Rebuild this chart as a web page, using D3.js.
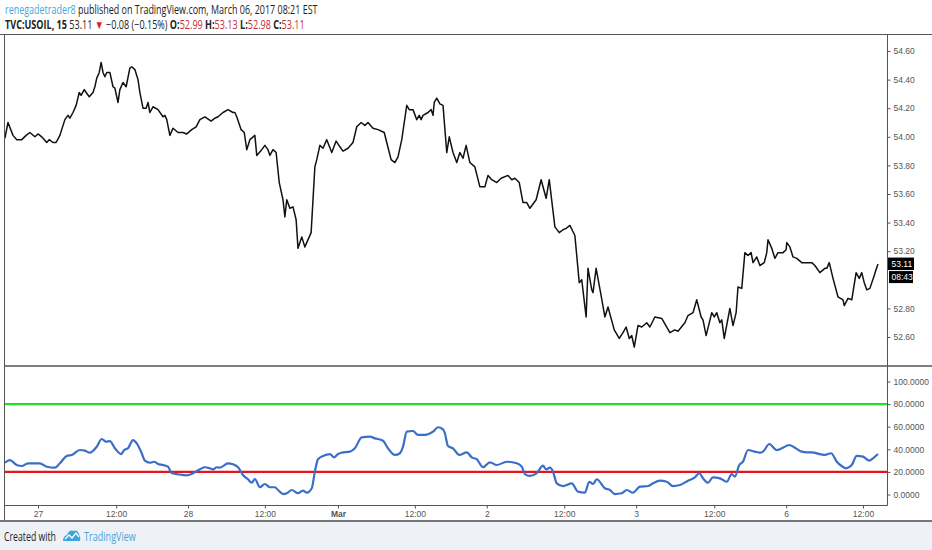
<!DOCTYPE html>
<html>
<head>
    <meta charset="utf-8">
    <style>
        body {
            margin: 0;
            background: #fff;
        }

        svg {
            display: block;
        }

        .tick-label {
            font-family: "Liberation Sans", Arial, sans-serif;
            font-size: 8.5px;
            fill: #555;
        }

        .head {
            font-family: "Open Sans", "Noto Sans", sans-serif;
            font-size: 12px;
            fill: #222;
        }
    </style>
</head>

<body>
    <svg width="932" height="550"></svg>

    <script src="https://d3js.org/d3.v7.min.js"></script>
    <script>
        const priceHours = [-5.3, -4.8, -4.0, -3.4, -2.6, -1.9, -1.3, -0.5, 0, 0.6, 1.4, 1.8, 2.4, 2.9, 3.5, 4.3, 4.8, 5.1, 5.6, 6.1,
            6.6, 6.9, 7.4, 7.7, 8.2, 8.8, 9.1, 9.4, 9.8, 10.1, 10.4, 10.7, 11.0, 11.5, 12.0, 12.3, 12.8, 13.1, 13.6, 14.1,
            14.7, 15.0, 15.5, 16.0, 16.3, 16.8, 17.3, 17.6, 17.9, 18.4, 19.2, 20.0, 20.3, 20.6, 21.1, 21.6, 22.4, 23.2, 23.8, 24.6,
            25.3, 25.9, 26.7, 27.7, 28.3, 28.8, 29.6, 30.4, 31.2, 31.5, 31.8, 32.5, 33.0, 33.4, 33.9, 34.7, 35.0, 35.8, 36.3, 36.8,
            37.1, 37.6, 38.1, 38.6, 39.2, 39.5, 39.8, 40.3, 40.8, 41.3, 41.6, 42.2, 42.7, 43.7, 44.3, 44.6, 45.1, 45.6, 46.2, 47.0,
            47.7, 48.3, 48.8, 49.6, 50.4, 51.0, 51.7, 52.3, 52.8, 53.6, 54.4, 55.4, 55.8, 56.5, 57.1, 57.6, 58.2, 58.6, 59.0, 59.4,
            60.0, 60.6, 61.0, 61.3, 61.6, 62.4, 62.9, 63.2, 63.4, 63.8, 64.3, 64.8, 65.4, 65.8, 66.4, 67.0, 67.5, 68.0, 68.5, 69.1,
            69.9, 70.7, 71.5, 72.0, 72.6, 73.4, 74.1, 75.2, 75.8, 76.3, 77.0, 77.6, 78.2, 78.7, 79.7, 80.5, 81.3, 81.8, 82.7, 83.4,
            84.0, 84.5, 85.1, 85.9, 86.6, 87.0, 87.7, 88.0, 88.6, 88.8, 89.3, 90.1, 90.7, 91.2, 92.2, 93.0, 93.6, 94.1, 94.6, 95.0,
            95.4, 96.0, 96.6, 97.4, 97.9, 98.7, 99.8, 101.1, 101.9, 102.4, 103.5, 104.0, 104.8, 105.4, 106.1, 106.4, 106.9, 107.8, 108.2, 108.6,
            109.1, 109.4, 109.8, 110.7, 111.2, 111.7, 112.0, 112.6, 113.1, 113.6, 114.1, 114.4, 115.0, 115.5, 116.2, 116.6, 116.8, 117.4, 117.9, 118.4,
            119.2, 119.7, 119.8, 120.3, 120.8, 121.4, 122.2, 122.7, 123.8, 124.3, 125.1, 125.9, 126.2, 126.6, 127.2, 128.0, 128.8, 129.0, 129.6, 130.2,
            130.9, 131.4, 131.8, 132.2, 132.6, 133.1, 133.8, 134.0, 134.4];

        const prices = [53.99, 54.10, 54.01, 53.98, 53.98, 54.01, 54.03, 54.00, 54.02, 54.00, 53.96, 53.98, 53.96, 53.96, 54.01, 54.12, 54.15, 54.13, 54.17, 54.22,
            54.31, 54.29, 54.33, 54.31, 54.28, 54.31, 54.35, 54.41, 54.45, 54.52, 54.45, 54.42, 54.45, 54.45, 54.35, 54.34, 54.24, 54.33, 54.38, 54.35,
            54.48, 54.49, 54.47, 54.40, 54.31, 54.20, 54.20, 54.24, 54.17, 54.21, 54.19, 54.14, 54.15, 54.12, 54.01, 54.06, 54.03, 54.03, 54.02, 54.05,
            54.07, 54.12, 54.14, 54.11, 54.13, 54.14, 54.17, 54.19, 54.17, 54.17, 54.14, 54.05, 54.03, 53.91, 53.98, 54.01, 53.87, 53.91, 53.94, 53.91,
            53.87, 53.91, 53.89, 53.68, 53.56, 53.44, 53.56, 53.50, 53.51, 53.42, 53.22, 53.30, 53.23, 53.33, 53.79, 53.84, 53.94, 53.92, 53.98, 53.89,
            53.97, 53.93, 53.90, 53.92, 53.96, 54.07, 54.10, 54.08, 54.10, 54.06, 54.05, 54.03, 53.96, 53.84, 53.82, 53.86, 53.98, 54.10, 54.22, 54.19,
            54.19, 54.12, 54.15, 54.12, 54.15, 54.17, 54.19, 54.15, 54.24, 54.27, 54.23, 54.22, 53.89, 54.00, 53.89, 53.82, 53.89, 53.85, 53.94, 53.82,
            53.79, 53.65, 53.65, 53.73, 53.70, 53.68, 53.71, 53.73, 53.70, 53.71, 53.68, 53.54, 53.54, 53.50, 53.56, 53.70, 53.57, 53.70, 53.37, 53.33,
            53.35, 53.36, 53.38, 53.31, 52.98, 53.00, 52.74, 53.08, 52.93, 52.91, 53.08, 52.89, 52.74, 52.81, 52.65, 52.59, 52.63, 52.67, 52.59, 52.61,
            52.53, 52.68, 52.67, 52.70, 52.67, 52.74, 52.73, 52.63, 52.65, 52.64, 52.70, 52.75, 52.77, 52.86, 52.74, 52.72, 52.61, 52.77, 52.74, 52.77,
            52.70, 52.72, 52.59, 52.80, 52.68, 52.77, 52.95, 52.94, 53.19, 53.17, 53.19, 53.12, 53.16, 53.10, 53.12, 53.19, 53.28, 53.22, 53.15, 53.19,
            53.19, 53.21, 53.26, 53.23, 53.16, 53.15, 53.12, 53.12, 53.12, 53.10, 53.05, 53.08, 53.08, 53.12, 53.01, 52.88, 52.86, 52.82, 52.87, 52.86,
            53.05, 53.01, 53.05, 52.98, 52.93, 52.94, 53.03, 53.06, 53.11];

        // oscillator in the lower pane
        const oscHours = [-5.3, -4.5, -3.4, -2.6, -1.6, 0.3, 1.4, 2.7, 3.5, 4.6, 5.4, 6.7, 7.5, 8.3, 9.4, 10.2, 10.9, 11.5, 12.3, 13.3,
            13.8, 14.4, 15.2, 15.8, 16.6, 17.1, 17.9, 18.6, 19.2, 20.0, 20.8, 21.4, 22.2, 23.8, 24.8, 25.9, 26.7, 27.5, 28.0, 28.6,
            29.1, 30.4, 31.2, 32.0, 32.8, 33.6, 34.2, 34.7, 35.5, 36.3, 37.1, 37.9, 38.4, 39.2, 39.8, 40.6, 41.6, 42.4, 43.0, 43.8,
            44.3, 44.8, 45.6, 46.7, 47.4, 48.0, 48.6, 49.9, 50.7, 51.8, 53.1, 53.9, 55.2, 56.0, 57.1, 57.9, 58.4, 59.0, 60.0, 60.8,
            61.9, 63.2, 64.0, 64.8, 65.1, 65.6, 66.4, 67.4, 68.6, 69.4, 70.2, 71.2, 72.3, 73.4, 75.0, 76.6, 77.4, 77.9, 78.7, 79.8,
            80.8, 81.3, 81.9, 82.4, 83.0, 84.0, 85.4, 86.4, 87.5, 88.2, 88.8, 89.4, 90.7, 91.5, 92.3, 93.4, 94.2, 95.2, 96.3, 97.6,
            98.4, 99.5, 100.6, 101.6, 102.7, 104.0, 105.1, 105.8, 106.4, 107.2, 108.0, 109.1, 110.2, 111.0, 111.5, 112.2, 112.8, 113.6, 114.7, 115.5,
            116.0, 117.0, 118.2, 119.0, 120.2, 121.1, 122.2, 123.0, 123.8, 125.1, 125.9, 126.9, 127.8, 128.6, 129.3, 130.2, 131.0, 132.0, 133.0, 133.6,
            134.4];

        const oscValues = [28.1, 30.5, 26.1, 25.2, 27.6, 27.6, 24.6, 23.7, 27.6, 34.1, 35.0, 39.4, 38.8, 37.0, 42.3, 49.1, 46.7, 47.3, 40.9, 35.8,
            39.4, 40.9, 48.2, 45.3, 36.5, 29.9, 28.1, 29.0, 27.0, 26.1, 24.6, 18.8, 18.1, 17.0, 18.8, 22.3, 24.1, 23.2, 22.3, 24.1,
            23.7, 27.6, 26.7, 24.1, 17.3, 13.5, 10.4, 13.7, 6.4, 9.3, 6.4, 6.4, 4.0, 0.4, 1.1, 4.0, 1.1, 3.4, 1.6, 5.5,
            20.2, 31.2, 34.1, 35.8, 32.9, 35.8, 37.0, 37.9, 40.9, 50.6, 51.2, 49.7, 47.6, 40.9, 35.0, 36.5, 42.3, 55.6, 56.2, 52.7,
            52.7, 55.6, 59.5, 57.7, 54.2, 42.9, 40.9, 35.0, 37.3, 32.9, 31.2, 24.1, 28.5, 26.1, 29.0, 27.6, 24.6, 18.1, 16.4, 18.8,
            25.5, 22.3, 23.7, 20.2, 9.9, 7.5, 9.9, 2.5, 1.6, 11.3, 9.3, 13.5, 5.5, 4.0, 0.4, 1.1, 4.0, 1.6, 6.9, 7.5,
            9.9, 12.2, 11.3, 7.5, 8.4, 12.2, 15.2, 18.8, 14.3, 10.4, 15.2, 14.3, 11.3, 18.1, 15.8, 26.1, 29.0, 39.4, 37.9, 37.0,
            37.9, 44.7, 39.4, 40.9, 43.8, 41.4, 37.9, 37.3, 37.3, 35.8, 35.0, 36.5, 29.0, 25.2, 23.2, 26.1, 34.1, 33.5, 29.9, 32.0,
            35.8];

        const oscLevels = [80, 20];
        const oscLevelColors = ["#22e022", "#e8141c"];

        const timeTicks = [0, 12.5, 24, 36.3, 48, 60.3, 71.8, 84.2, 95.7, 108.2, 119.7, 132];
        const timeLabels = ["27", "12:00", "28", "12:00", "Mar", "12:00", "2", "12:00", "3", "12:00", "6", "12:00"];
        // 53.00 sits under the countdown box, so it is not shown
        const priceTicks = [52.6, 52.8, 53.2, 53.4, 53.6, 53.8, 54.0, 54.2, 54.4, 54.6];
        const oscTicks = [0, 20, 40, 60, 80, 100];

        const lastPrice = 53.11;
        const countdown = "08:43";

        let svg = d3.select("svg")

        // panes
        let plotLeft = 4.5, plotRight = 887.5, plotTop = 34.5;
        let mainBottom = 366, oscBottom = 505.5, axisBottom = 521;

        let x = d3.scaleLinear().domain([0, 24]).range([38, 188])
        let yPrice = d3.scaleLinear().domain([52.6, 54.6]).range([337, 51])
        let yOsc = d3.scaleLinear().domain([0, 100]).range([494.5, 381.5])

        // footer background
        svg.append("rect")
            .attr("x", 0).attr("y", axisBottom)
            .attr("width", 932).attr("height", 550 - axisBottom)
            .style("fill", "#eef2f6")

        svg.append("defs").append("clipPath").attr("id", "plot")
            .append("rect").attr("x", plotLeft).attr("y", plotTop)
            .attr("width", plotRight - plotLeft).attr("height", oscBottom - plotTop)

        let plot = svg.append("g").attr("clip-path", "url(#plot)")

        // oscillator levels
        plot.selectAll(".level")
            .data(oscLevels)
            .join("line")
            .attr("x1", plotLeft).attr("x2", plotRight)
            .attr("y1", d => yOsc(d)).attr("y2", d => yOsc(d))
            .style("stroke", (d, i) => oscLevelColors[i])
            .style("stroke-width", 2.2)

        let oscLine = d3.line()
            .x((d, i) => x(oscHours[i]))
            .y(d => yOsc(d))
            .curve(d3.curveMonotoneX)

        plot.append("path")
            .attr("d", oscLine(oscValues))
            .style("fill", "none")
            .style("stroke", "#3a6fc8")
            .style("stroke-width", 2.2)

        let priceLine = d3.line()
            .x((d, i) => x(priceHours[i]))
            .y(d => yPrice(d))

        plot.append("path")
            .attr("d", priceLine(prices))
            .style("fill", "none")
            .style("stroke", "#111")
            .style("stroke-width", 1.5)
            .style("stroke-linejoin", "round")

        // frame lines
        let frame = svg.append("g").style("stroke", "#555").style("fill", "none")
        frame.append("line").attr("x1", 0).attr("x2", 932).attr("y1", plotTop).attr("y2", plotTop).style("stroke-width", 1.2)
        frame.append("line").attr("x1", plotLeft).attr("x2", plotLeft).attr("y1", plotTop).attr("y2", axisBottom)
        frame.append("line").attr("x1", plotRight).attr("x2", plotRight).attr("y1", plotTop).attr("y2", oscBottom)
        frame.append("line").attr("x1", plotLeft).attr("x2", 932).attr("y1", mainBottom).attr("y2", mainBottom).style("stroke-width", 1.5)
        frame.append("line").attr("x1", plotLeft).attr("x2", plotRight).attr("y1", oscBottom).attr("y2", oscBottom)
        frame.append("line").attr("x1", 0).attr("x2", 932).attr("y1", axisBottom).attr("y2", axisBottom)
            .style("stroke", "#777").style("stroke-width", 2)

        // price axis
        let priceAxis = svg.append("g").attr("transform", `translate(${plotRight},0)`)
            .call(d3.axisRight(yPrice).tickValues(priceTicks).tickFormat(d3.format(".2f")).tickSize(3).tickPadding(3))
        priceAxis.select(".domain").remove()

        let oscAxis = svg.append("g").attr("transform", `translate(${plotRight},0)`)
            .call(d3.axisRight(yOsc).tickValues(oscTicks).tickFormat(d3.format(".4f")).tickSize(3).tickPadding(3))
        oscAxis.select(".domain").remove()

        let timeAxis = svg.append("g").attr("transform", `translate(0,${oscBottom})`)
            .call(d3.axisBottom(x).tickValues(timeTicks).tickFormat((d, i) => timeLabels[i]).tickSize(3).tickPadding(2))
        timeAxis.select(".domain").remove()
        timeAxis.selectAll("text").filter((d, i) => timeLabels[i] === "Mar").style("font-weight", "bold")

        svg.selectAll(".tick line").style("stroke", "#555")
        svg.selectAll(".tick text")
            .attr("class", "tick-label")
            .attr("fill", null)
            .attr("font-size", null)
            .attr("font-family", null)

        // last price and countdown boxes
        let yl = yPrice(lastPrice)
        let badges = svg.append("g")
        badges.append("rect").attr("x", plotRight + 0.5).attr("y", yl - 6.5).attr("width", 26).attr("height", 12.5).style("fill", "#000")
        badges.append("text").attr("x", plotRight + 4).attr("y", yl + 3).attr("class", "tick-label").style("fill", "#fff").text(d3.format(".2f")(lastPrice))
        badges.append("rect").attr("x", plotRight + 1.5).attr("y", yl + 7).attr("width", 24).attr("height", 12).style("fill", "#000")
        badges.append("text").attr("x", plotRight + 4).attr("y", yl + 16).attr("class", "tick-label").style("fill", "#fff").text(countdown)

        // header
        const red = "#c22f3b"
        let line1 = [
            { t: "renegadetrader8", c: "#3fa9dc" },
            { t: " published on TradingView.com, March 06, 2017 08:21 EST" }
        ]
        let line2 = [
            { t: "TVC:USOIL, 15", b: true },
            { t: " 53.11 " },
            { t: "▼", c: "#e01f26" },
            { t: " \u22120.08 (\u22120.15%) " },
            { t: "O:", b: true }, { t: "52.99", c: red },
            { t: " H:", b: true }, { t: "53.13", c: red },
            { t: " L:", b: true }, { t: "52.98", c: red },
            { t: " C:", b: true }, { t: "53.11", c: red }
        ]

        // squeeze a line of text to the width it takes in the picture
        function fitText(parts, x0, y, width, size) {
            let g = svg.append("g")
            let t = g.append("text").attr("class", "head").attr("x", 0).attr("y", 0)
                .style("font-size", size + "px")
            t.selectAll("tspan")
                .data(parts)
                .join("tspan")
                .style("font-weight", d => d.b ? "bold" : null)
                .style("fill", d => d.c || null)
                .text(d => d.t)
            let w = t.node().getComputedTextLength()
            g.attr("transform", `translate(${x0},${y}) scale(${width / w},1)`)
        }
        fitText(line1, 5, 13.5, 313, 12)
        fitText(line2, 5, 28.5, 300, 12)

        // footer
        fitText([{ t: "Created with" }], 4, 540.5, 52, 12)

        let logo = svg.append("g").attr("transform", "translate(63,529)")
        logo.append("path")
            .attr("d", "M0,12 Q0,7 4,6 Q6,0 11,2 Q14,0 16,5 Q18,9 17,12 Z")
            .style("fill", "#3ba6dc")
        logo.append("path")
            .attr("d", "M2,10 L6,6 L9,9 L13,4 L16,8")
            .style("fill", "none")
            .style("stroke", "#fff")
            .style("stroke-width", 1.3)

        fitText([{ t: "TradingView", c: "#4aa7d9" }], 84, 540.5, 52, 12.5)
    </script>
</body>

</html>
